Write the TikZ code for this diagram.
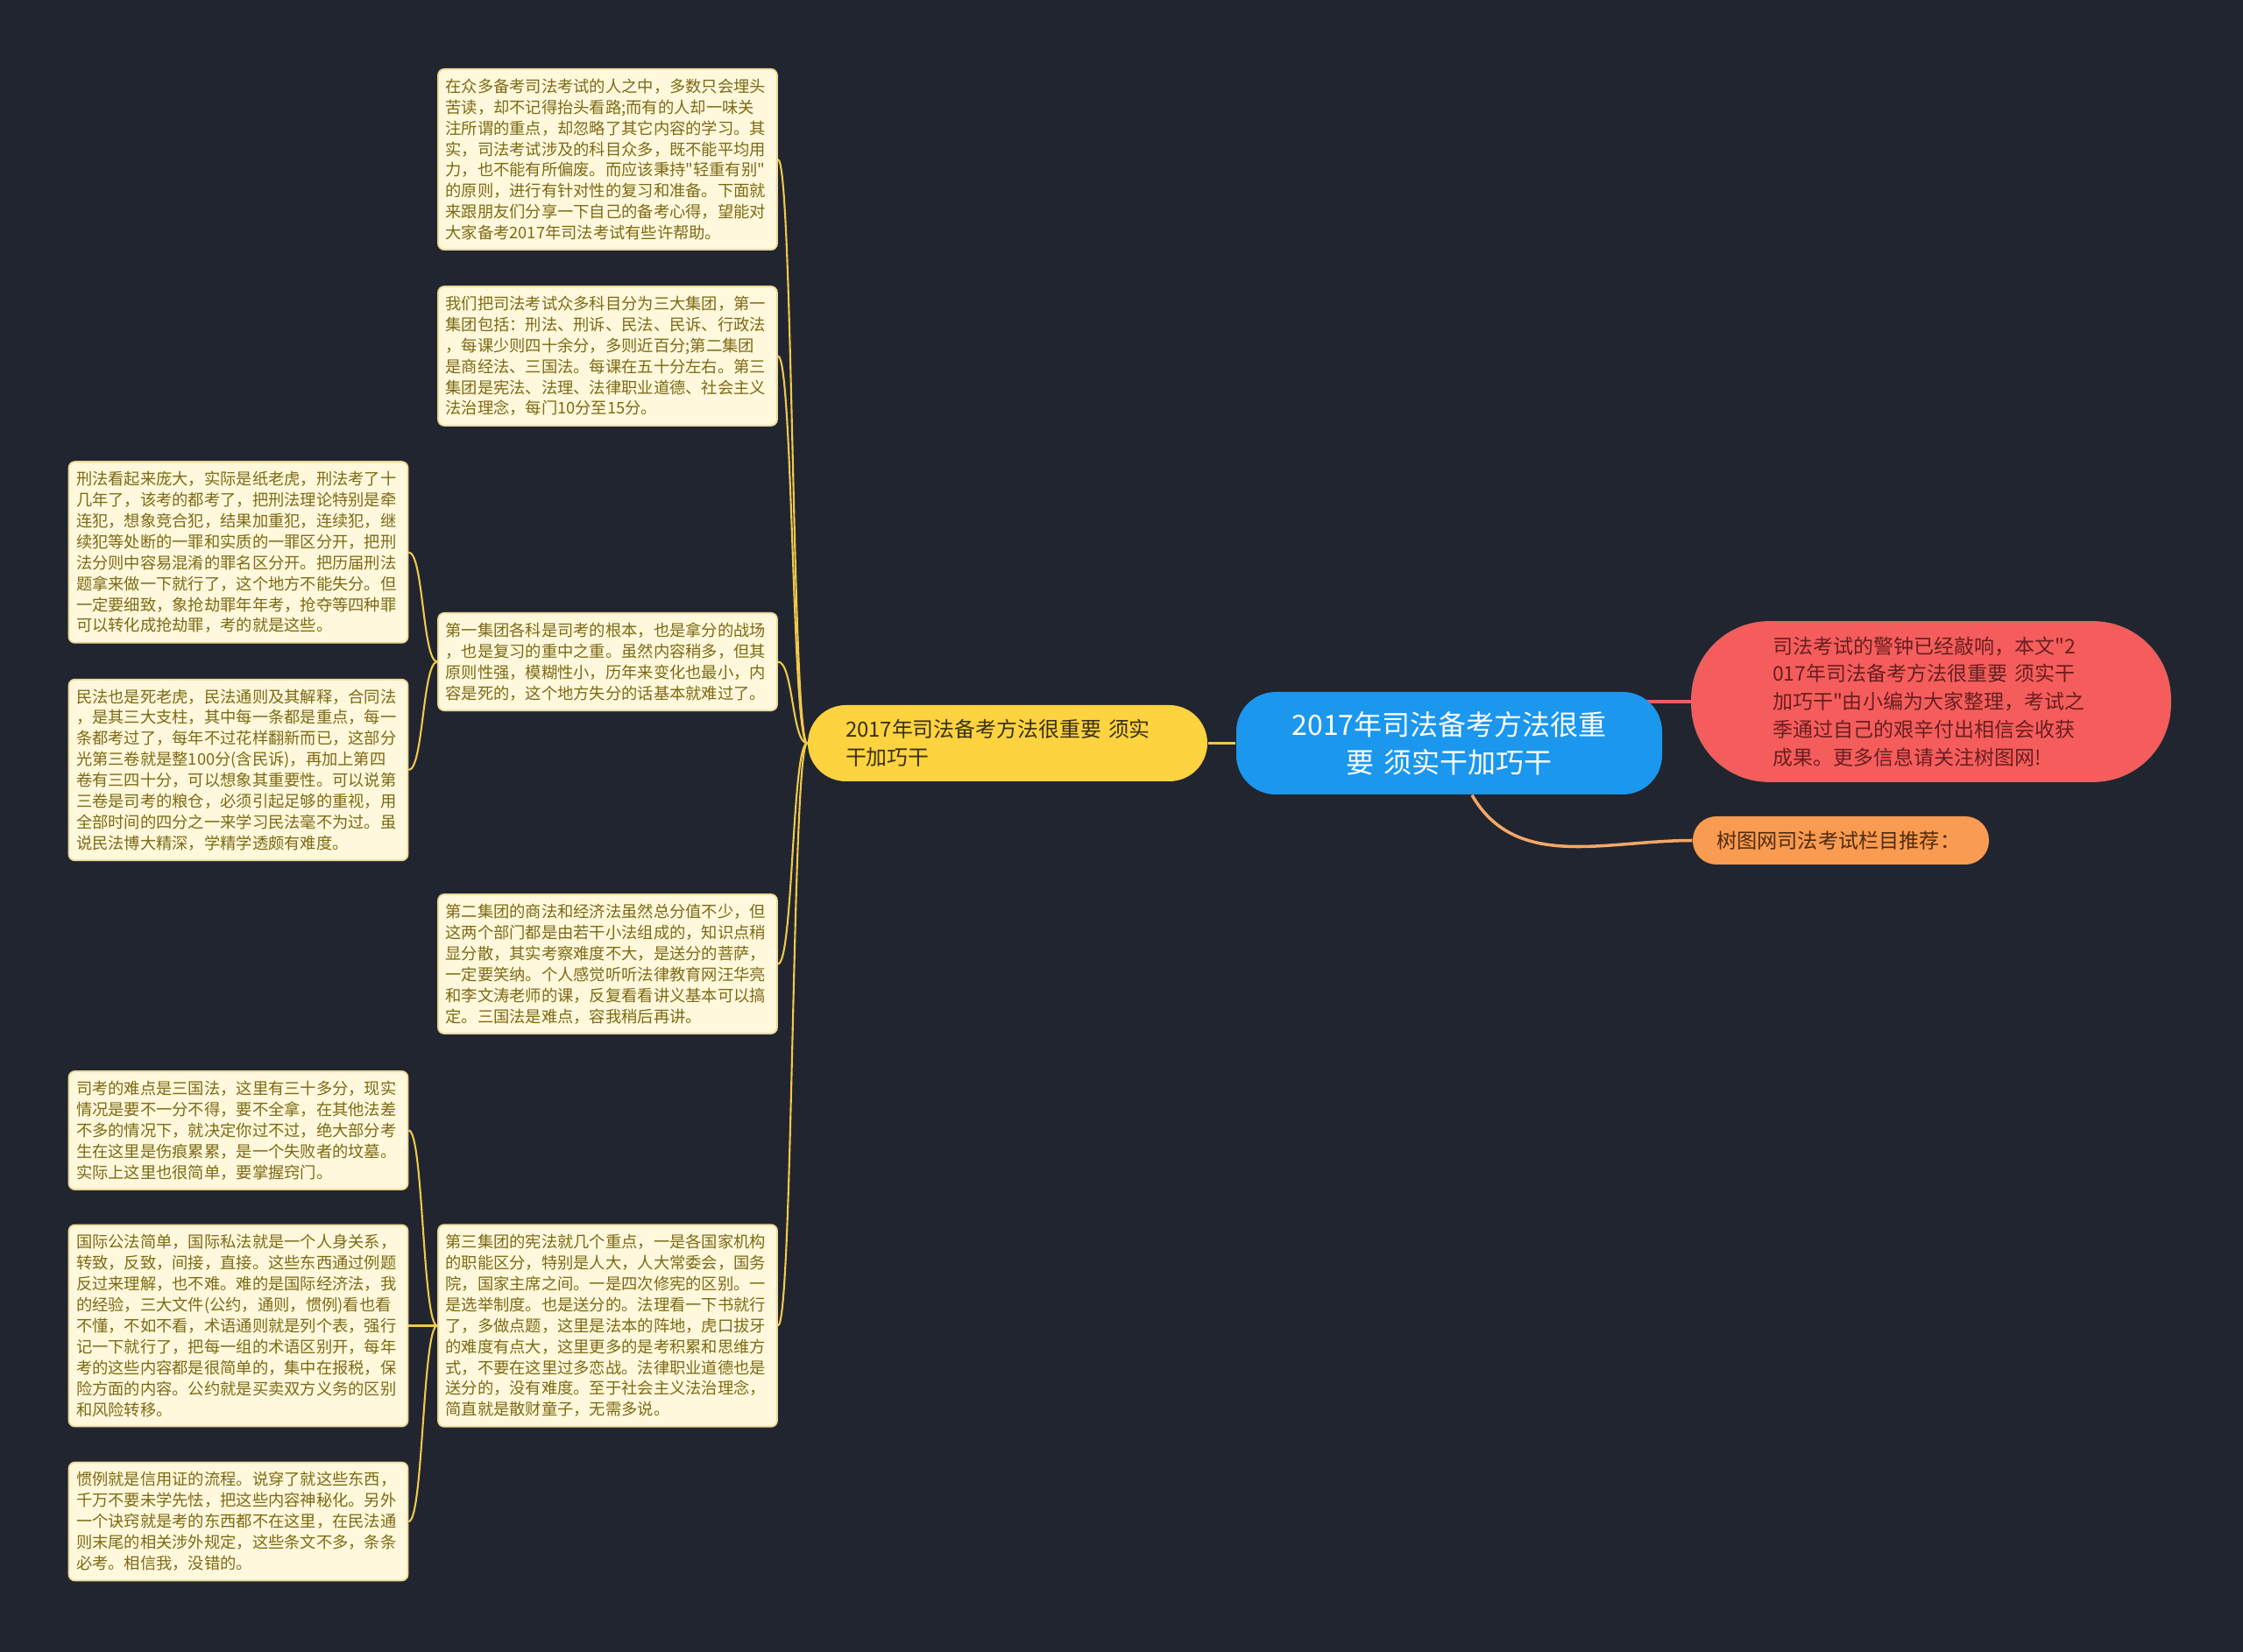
\documentclass[tikz,border=0pt]{standalone}
\usepackage{fontspec}
\setmainfont{Noto Sans CJK SC}[Ligatures=TeXOff]
\usetikzlibrary{positioning}
\definecolor{bgdark}{HTML}{21252F}
\definecolor{notefill}{HTML}{FFF8DC}
\definecolor{noteline}{HTML}{EBD89A}
\definecolor{notetext}{HTML}{7D6A14}
\definecolor{twig}{HTML}{F1C84B}
\definecolor{yelfill}{HTML}{FDD33F}
\definecolor{yeltext}{HTML}{3A3112}
\definecolor{rootblue}{HTML}{1B97EE}
\definecolor{redfill}{HTML}{F55D5D}
\definecolor{redtext}{HTML}{6A1E1E}
\definecolor{redline}{HTML}{E8605F}
\definecolor{ornfill}{HTML}{F99B50}
\definecolor{orntext}{HTML}{4F2C0E}
\definecolor{ornline}{HTML}{F3A867}
\pgfdeclarelayer{back}
\pgfsetlayers{back,main}
\begin{document}
\begin{tikzpicture}
 \tikzstyle{note}=[rectangle,rounded corners=2pt,draw=noteline,line width=0.5pt,fill=notefill,text=notetext,align=left,text width=3.70cm,inner xsep=0.085cm,inner ysep=0.11cm,font=\fontsize{5.2pt}{6.8pt}\selectfont]
 \tikzstyle{twigline}=[twig,line width=0.6pt]
 \useasboundingbox (0,0) rectangle (25.6,-18.86);
 \node[rectangle,fill=rootblue,text=white,rounded corners=0.45cm,minimum width=4.86cm,minimum height=1.17cm,text width=4.0cm,inner sep=0pt,align=center,font=\fontsize{9.1pt}{12.3pt}\selectfont] (root) at (16.54,-8.485) {2017年司法备考方法很重\\要 须实干加巧干};
 \node[rectangle,fill=redfill,draw=redline,line width=0.5pt,text=redtext,rounded corners=0.88cm,minimum width=5.46cm,minimum height=1.82cm,text width=3.62cm,inner sep=0pt,align=left,font=\fontsize{6.55pt}{9.05pt}\selectfont] (intro) at (22.04,-8.01) {司法考试的警钟已经敲响，本文"2\\017年司法备考方法很重要 须实干\\加巧干"由小编为大家整理，考试之\\季通过自己的艰辛付出相信会收获\\成果。更多信息请关注树图网!};
 \node[rectangle,fill=ornfill,text=orntext,rounded corners=0.27cm,minimum width=3.38cm,minimum height=0.55cm,text width=2.84cm,inner xsep=0.27cm,inner ysep=0pt,align=left,font=\fontsize{6.6pt}{8pt}\selectfont] (recom) at (21.01,-9.595) {树图网司法考试栏目推荐：};
 \node[rectangle,fill=yelfill,text=yeltext,rounded corners=0.435cm,minimum width=4.56cm,minimum height=0.87cm,text width=3.70cm,inner xsep=0.43cm,inner ysep=0pt,align=left,font=\fontsize{6.8pt}{9.1pt}\selectfont] (topic) at (11.50,-8.485) {2017年司法备考方法很重要 须实\\干加巧干};
 \node[note] (intro1) at (6.935,-1.82) {在众多备考司法考试的人之中，多数只会埋头\\苦读，却不记得抬头看路;而有的人却一味关\\注所谓的重点，却忽略了其它内容的学习。其\\实，司法考试涉及的科目众多，既不能平均用\\力，也不能有所偏废。而应该秉持"轻重有别"\\的原则，进行有针对性的复习和准备。下面就\\来跟朋友们分享一下自己的备考心得，望能对\\大家备考2017年司法考试有些许帮助。};
 \node[note] (groups) at (6.935,-4.065) {我们把司法考试众多科目分为三大集团，第一\\集团包括：刑法、刑诉、民法、民诉、行政法\\，每课少则四十余分，多则近百分;第二集团\\是商经法、三国法。每课在五十分左右。第三\\集团是宪法、法理、法律职业道德、社会主义\\法治理念，每门10分至15分。};
 \node[note] (group1) at (6.935,-7.555) {第一集团各科是司考的根本，也是拿分的战场\\，也是复习的重中之重。虽然内容稍多，但其\\原则性强，模糊性小，历年来变化也最小，内\\容是死的，这个地方失分的话基本就难过了。};
 \node[note] (group2) at (6.935,-11.005) {第二集团的商法和经济法虽然总分值不少，但\\这两个部门都是由若干小法组成的，知识点稍\\显分散，其实考察难度不大，是送分的菩萨，\\一定要笑纳。个人感觉听听法律教育网汪华亮\\和李文涛老师的课，反复看看讲义基本可以搞\\定。三国法是难点，容我稍后再讲。};
 \node[note] (group3) at (6.935,-15.135) {第三集团的宪法就几个重点，一是各国家机构\\的职能区分，特别是人大，人大常委会，国务\\院，国家主席之间。一是四次修宪的区别。一\\是选举制度。也是送分的。法理看一下书就行\\了，多做点题，这里是法本的阵地，虎口拔牙\\的难度有点大，这里更多的是考积累和思维方\\式，不要在这里过多恋战。法律职业道德也是\\送分的，没有难度。至于社会主义法治理念，\\简直就是散财童子，无需多说。};
 \node[note] (xingfa) at (2.72,-6.305) {刑法看起来庞大，实际是纸老虎，刑法考了十\\几年了，该考的都考了，把刑法理论特别是牵\\连犯，想象竞合犯，结果加重犯，连续犯，继\\续犯等处断的一罪和实质的一罪区分开，把刑\\法分则中容易混淆的罪名区分开。把历届刑法\\题拿来做一下就行了，这个地方不能失分。但\\一定要细致，象抢劫罪年年考，抢夺等四种罪\\可以转化成抢劫罪，考的就是这些。};
 \node[note] (minfa) at (2.72,-8.79) {民法也是死老虎，民法通则及其解释，合同法\\，是其三大支柱，其中每一条都是重点，每一\\条都考过了，每年不过花样翻新而已，这部分\\光第三卷就是整100分(含民诉)，再加上第四\\卷有三四十分，可以想象其重要性。可以说第\\三卷是司考的粮仓，必须引起足够的重视，用\\全部时间的四分之一来学习民法毫不为过。虽\\说民法博大精深，学精学透颇有难度。};
 \node[note] (sanguo) at (2.72,-12.905) {司考的难点是三国法，这里有三十多分，现实\\情况是要不一分不得，要不全拿，在其他法差\\不多的情况下，就决定你过不过，绝大部分考\\生在这里是伤痕累累，是一个失败者的坟墓。\\实际上这里也很简单，要掌握窍门。};
 \node[note] (guoji) at (2.72,-15.135) {国际公法简单，国际私法就是一个人身关系，\\转致，反致，间接，直接。这些东西通过例题\\反过来理解，也不难。难的是国际经济法，我\\的经验，三大文件(公约，通则，惯例)看也看\\不懂，不如不看，术语通则就是列个表，强行\\记一下就行了，把每一组的术语区别开，每年\\考的这些内容都是很简单的，集中在报税，保\\险方面的内容。公约就是买卖双方义务的区别\\和风险转移。};
 \node[note] (guanli) at (2.72,-17.37) {惯例就是信用证的流程。说穿了就这些东西，\\千万不要未学先怯，把这些内容神秘化。另外\\一个诀窍就是考的东西都不在这里，在民法通\\则末尾的相关涉外规定，这些条文不多，条条\\必考。相信我，没错的。};
 \begin{pgfonlayer}{back}
 \fill[bgdark] (0,0) rectangle (25.6,-18.86);
 \draw[redline,line width=1pt] (intro.west) -- (intro.west -| root.center);
 \draw[ornline,line width=1pt] ([xshift=0.26cm]root.south) to[out=-60,in=180] (recom.west);
 \draw[twig,line width=1pt] (topic.east) -- (root.west);
 \draw[twigline] (topic.west) .. controls +(-0.175,0) and +(0.175,0) .. (intro1.east);
 \draw[twigline] (topic.west) .. controls +(-0.175,0) and +(0.175,0) .. (groups.east);
 \draw[twigline] (topic.west) .. controls +(-0.175,0) and +(0.175,0) .. (group1.east);
 \draw[twigline] (topic.west) .. controls +(-0.175,0) and +(0.175,0) .. (group2.east);
 \draw[twigline] (topic.west) .. controls +(-0.175,0) and +(0.175,0) .. (group3.east);
 \draw[twigline] (group1.west) .. controls +(-0.17,0) and +(0.17,0) .. (xingfa.east);
 \draw[twigline] (group1.west) .. controls +(-0.17,0) and +(0.17,0) .. (minfa.east);
 \draw[twigline] (group3.west) .. controls +(-0.17,0) and +(0.17,0) .. (sanguo.east);
 \draw[twigline] (group3.west) .. controls +(-0.17,0) and +(0.17,0) .. (guoji.east);
 \draw[twigline] (group3.west) .. controls +(-0.17,0) and +(0.17,0) .. (guanli.east);
 \end{pgfonlayer}
\end{tikzpicture}
\end{document}
